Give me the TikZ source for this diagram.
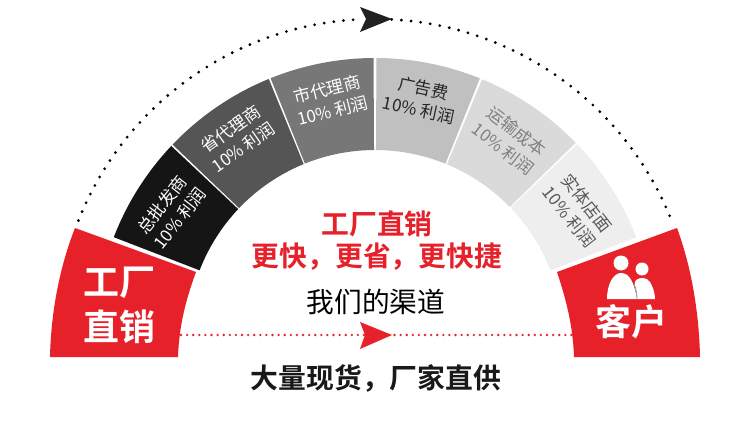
\documentclass[tikz,border=0pt]{standalone}
\usepackage{fontspec}
\setmainfont{Noto Sans CJK SC}
\newfontfamily\boldcjk{Noto Sans CJK SC Bold}
\definecolor{redb}{HTML}{E6212A}
\begin{document}
\begin{tikzpicture}[x=1pt,y=1pt,
  seg/.style={inner sep=0pt,align=center,font=\fontsize{17}{22}\selectfont},
  big/.style={inner sep=0pt,text=white,font=\boldcjk\fontsize{36}{36}\selectfont},
  head/.style={inner sep=0pt,font=\boldcjk\fontsize{27.8}{30}\selectfont},
  dotline/.style={line width=3.1pt,line cap=round,dash pattern=on 0pt off 9.7pt}]
\useasboundingbox (0,0) rectangle (750,421);
\fill[white] (0,0) rectangle (750,421);
\begin{scope}[shift={(375,83)}]
  % segments
  \foreach \a/\b/\c in {158.9/136.7/151515,136.3/112.3/555555,111.9/90.3/777777,89.7/68/C0C0C0,67.5/44.2/DADADA,43.8/21.1/EEEEEE}{
    \definecolor{segc}{HTML}{\c}
    \fill[segc] (\a:280) arc[start angle=\a,end angle=\b,radius=280pt] -- (\b:188) arc[start angle=\b,end angle=\a,radius=188pt] -- cycle;
  }
  % dotted outer arc
  \coordinate (dl) at (158.4:319);
  \coordinate (dn) at (87:319);
  \draw[dotline] (dl) arc[start angle=158.4,end angle=92.8,radius=319pt];
  \draw[dotline] (dn) arc[start angle=87,end angle=21.6,radius=319pt];
\end{scope}
% red blocks
\fill[redb] (75,193) -- (196,149) .. controls (186,122) and (179,95) .. (178,64) -- (50,64) .. controls (51,110) and (60,155) .. (75,193) -- cycle;
\fill[redb] (677,193) -- (557,149) .. controls (566,122) and (573,95) .. (574,64) -- (700,64) .. controls (699,110) and (691,155) .. (677,193) -- cycle;
% top arrow
\fill[black!87] (392,402) -- (360,414) -- (366,402) -- (360,389) -- cycle;
% bottom dotted and arrow
\coordinate (ba) at (181,86);
\coordinate (bb) at (572,86);
\draw[redb,line width=2.6pt,line cap=round,dash pattern=on 0pt off 6.1pt] (ba) -- (bb);
\fill[redb] (392,86) -- (360,99) -- (365,86) -- (360,72) -- cycle;
% segment labels
\node[seg,text=white,rotate=52] (s1) at (171,209.5) {总批发商\\10\% 利润};
\node[seg,text=white,rotate=35] (s2) at (237,283) {省代理商\\10\% 利润};
\node[seg,text=white,rotate=14] (s3) at (330,321) {市代理商\\10\% 利润};
\node[seg,text=black!85,rotate=-12] (s4) at (421,322) {广告费\\10\% 利润};
\node[seg,text=black!50,rotate=-38] (s5) at (510,281) {运输成本\\10\% 利润};
\node[seg,text=black!65,rotate=-52] (s6) at (578,211) {实体店面\\10\% 利润};
% big labels
\node[big] (f1) at (119,138) {工厂};
\node[big] (f2) at (119,94) {直销};
\node[big] (k) at (631,99) {客户};
% people icon
\fill[white] (621,158) circle (7.5);
\fill[white] (642,152) circle (6.5);
\fill[white] (607,122) .. controls (607,138) and (614,148) .. (621,148) .. controls (630,148) and (634,138) .. (637,122) -- cycle;
\fill[white] (637,122) .. controls (636,132) and (633,138) .. (636,141) .. controls (640,144) and (647,144) .. (650,139) .. controls (653,134) and (655,128) .. (655,122) -- cycle;
\draw[black!40,line width=0.8pt] (634,137) .. controls (636,132) and (637,128) .. (637,122);
% centre text
\node[head,text=redb] (t1) at (377,197.5) {工厂直销};
\node[head,text=redb] (t2) at (377,164) {更快，更省，更快捷};
\node[inner sep=0pt,font=\fontsize{27.7}{30}\selectfont] (t3) at (376,119) {我们的渠道};
\node[head,text=black!90] (t4) at (376,43) {大量现货，厂家直供};
\end{tikzpicture}
\end{document}
